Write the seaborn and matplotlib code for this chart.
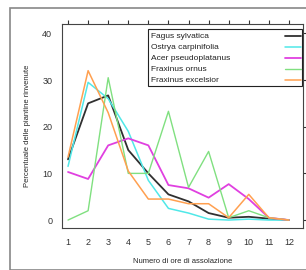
import numpy as np
import pandas as pd
import matplotlib
matplotlib.use('Agg')
import matplotlib.pyplot as plt
import seaborn as sns
from matplotlib.patches import Rectangle

ore = list(range(1, 13))
fagus = [13, 25, 26.7, 15, 10, 5.5, 4, 1.5, 0.5, 0.7, 0.3, 0]
ostrya = [11.5, 29.5, 26, 19, 8.5, 2.5, 1.5, 0.2, 0, 0.2, 0, 0]
acer = [10.3, 8.8, 16, 17.5, 16, 7.5, 6.8, 4.8, 7.7, 4.5, 0.5, 0]
ornus = [0, 2, 30.5, 10, 10, 23.3, 7, 14.7, 0.5, 2, 0.5, 0]
excelsior = [13.5, 32, 23, 10.5, 4.5, 4.5, 3.5, 3.5, 0.5, 5.5, 0.5, 0]

specie = ['Fagus sylvatica', 'Ostrya carpinifolia', 'Acer pseudoplatanus',
          'Fraxinus ornus', 'Fraxinus excelsior']
colori = ['#303030', '#50e8e8', '#e040e0', '#80e080', '#ffa050']
spessori = [1.3, 1.1, 1.3, 1.0, 1.1]

df = pd.DataFrame({
    'ore': ore * 5,
    'perc': fagus + ostrya + acer + ornus + excelsior,
    'specie': [s for s in specie for _ in ore],
})

sns.set_style('white')
plt.rcParams['font.family'] = ['Liberation Sans', 'DejaVu Sans']

fig = plt.figure(figsize=(3.06, 2.70), dpi=100)
fig.patches.append(Rectangle((10 / 306, 0), 1, 1 - 8 / 270, transform=fig.transFigure,
                             fill=False, edgecolor='#888888', linewidth=1.2))
ax = fig.add_axes([62 / 306, 1 - 228 / 270, 241 / 306, 204 / 270])

sns.lineplot(data=df, x='ore', y='perc', hue='specie', hue_order=specie,
             palette=colori, linewidth=1.1, ax=ax, legend=False)
for line, lw in zip(ax.lines, spessori):
    line.set_linewidth(lw)

ax.set_xlim(0.7, 12.7)
ax.set_ylim(-1.7, 42)
ax.set_xticks(ore)
ax.set_yticks([0, 10, 20, 30, 40])
ax.tick_params(axis='both', which='both', direction='out', length=3, width=0.8,
               labelsize=6.5, top=True, right=True, labeltop=False, labelright=False,
               colors='#333333', pad=4)
for s in ax.spines.values():
    s.set_color('#444444')
    s.set_linewidth(0.8)
ax.set_xlabel('Numero di ore di assolazione', fontsize=5.5, labelpad=8)
ax.set_ylabel('Percentuale delle piantine rinvenute', fontsize=5.5, labelpad=8)

# legenda stile lattice: testo a sinistra, linee a destra
ax.add_patch(Rectangle((0.357, 0.696), 0.639, 0.279, transform=ax.transAxes,
                       fill=True, facecolor='white', edgecolor='#222222',
                       linewidth=0.8, zorder=5))
for i, (nome, col, lw) in enumerate(zip(specie, colori, spessori)):
    yy = 0.940 - i * 0.054
    ax.text(0.368, yy, nome, transform=ax.transAxes, fontsize=6,
            va='center', ha='left', color='#222222', zorder=6)
    ax.plot([0.925, 0.99], [yy, yy], transform=ax.transAxes, color=col,
            lw=lw, zorder=6)

fig.savefig('out.png', dpi=100)
